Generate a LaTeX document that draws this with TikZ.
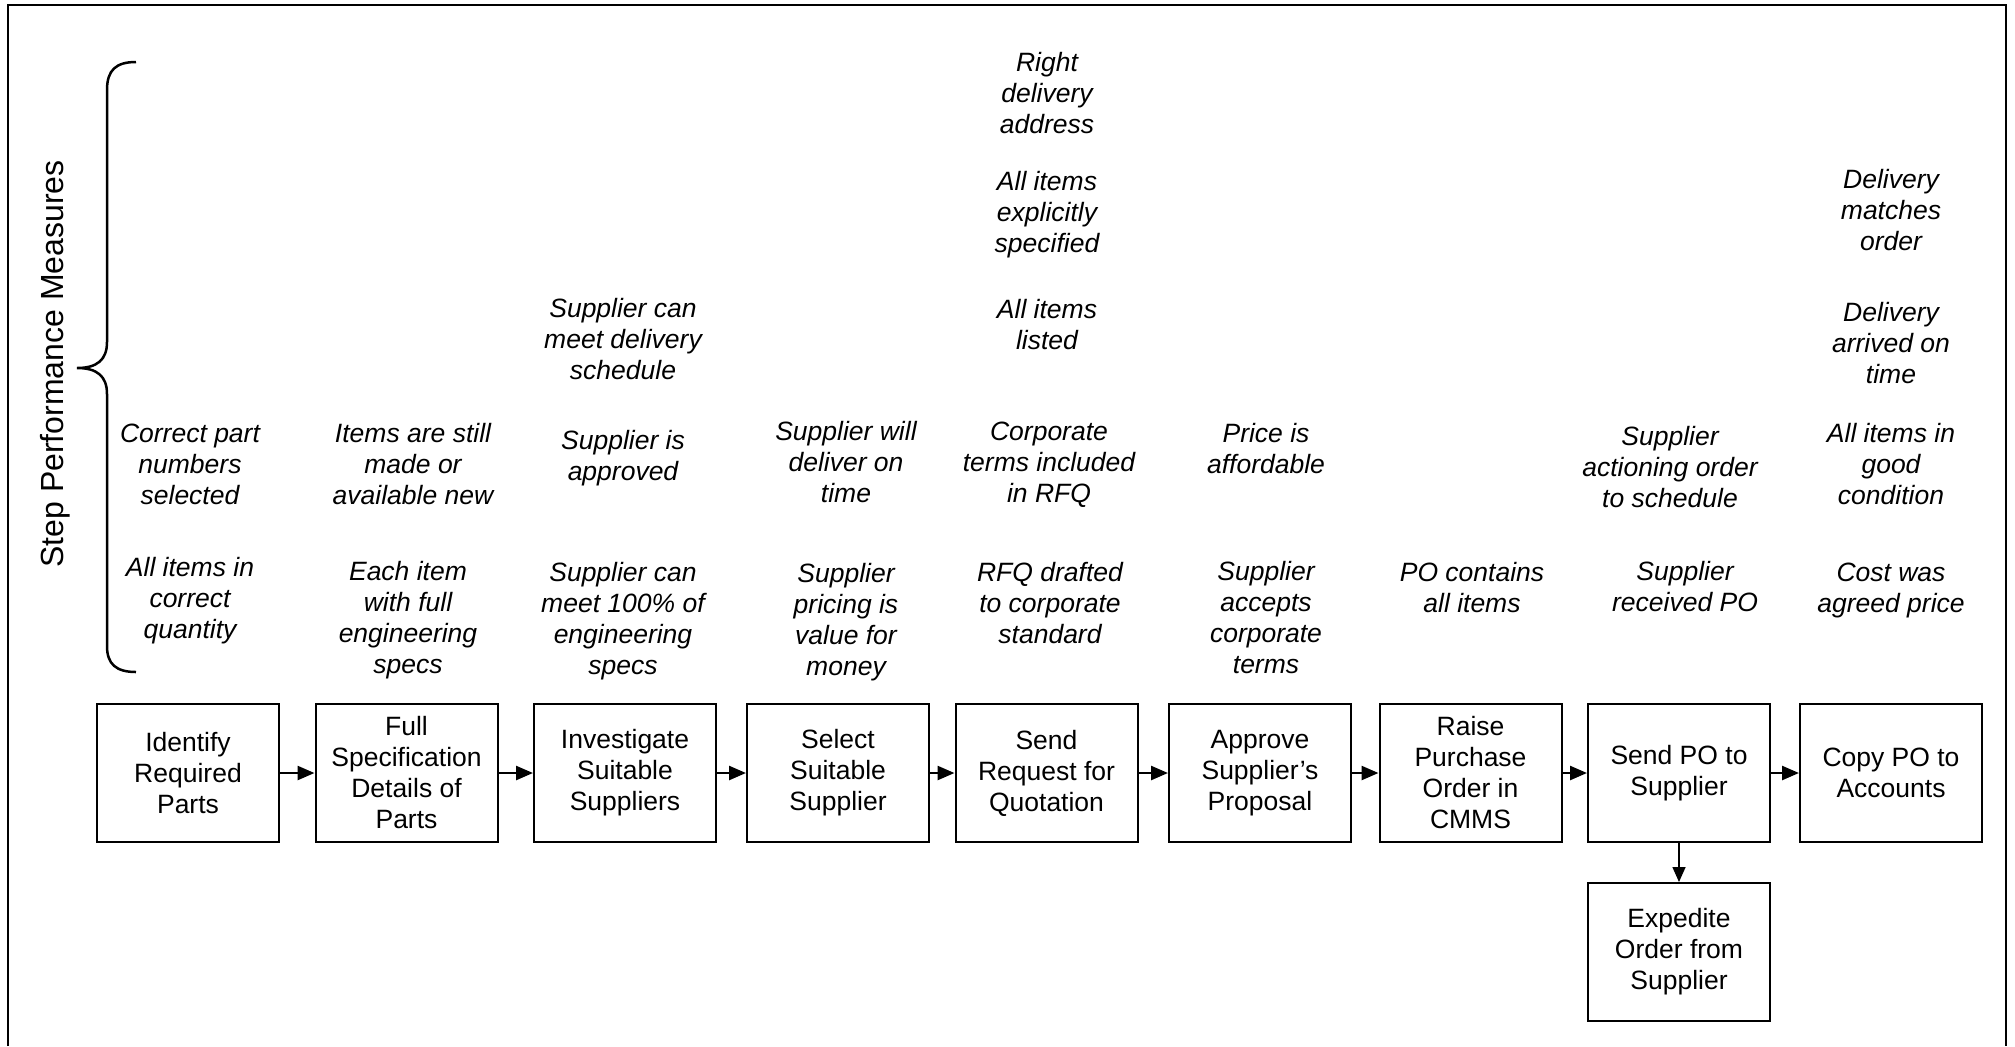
\documentclass[tikz,border=0pt]{standalone}
\usepackage{fontspec}
\setmainfont{Liberation Sans}
\usetikzlibrary{arrows.meta}
\begin{document}
\begin{tikzpicture}[x=0.5pt, y=-0.5pt,
  stepbox/.style={draw, line width=1pt, minimum width=91pt, minimum height=69pt,
    inner sep=0pt, align=center, font=\fontsize{13.25}{15.5}\selectfont},
  measure/.style={anchor=base, align=center, inner sep=0pt,
    font=\fontsize{13.25}{15.5}\selectfont\itshape},
  flow/.style={line width=1.25pt, -{Triangle[length=8.5pt, width=7pt]}},
  flowdown/.style={line width=0.75pt, -{Triangle[length=7.5pt, width=6.5pt]}}]
%
\useasboundingbox (0,0) rectangle (2015,1046);
\draw[line width=1pt] (8,1046) -- (8,5) -- (2006,5) -- (2006,1046);
%
\node[rotate=90, font=\fontsize{16}{19}\selectfont] (title) at (55,364) {Step Performance Measures};
\draw[line width=1.25pt]
(136,62) .. controls (116,62) and (107,70) .. (107,90) -- (107,342)
.. controls (107,360) and (97,368) .. (77,368)
.. controls (97,368) and (107,376) .. (107,394) -- (107,646)
.. controls (107,664) and (116,672) .. (136,672);
%
\node[stepbox] (identify) at (188,773) {Identify\\Required\\Parts};
\node[stepbox] (fullspec) at (406.5,773) {Full\\Specification\\Details of\\Parts};
\node[stepbox] (investigate) at (625,773) {Investigate\\Suitable\\Suppliers};
\node[stepbox] (select) at (838,773) {Select\\Suitable\\Supplier};
\node[stepbox] (request) at (1046.5,773) {Send\\Request for\\Quotation};
\node[stepbox] (approve) at (1260,773) {Approve\\Supplier's\\Proposal};
\node[stepbox] (raise) at (1470.5,773) {Raise\\Purchase\\Order in\\CMMS};
\node[stepbox] (sendpo) at (1679,773) {Send PO to\\Supplier};
\node[stepbox] (copypo) at (1891,773) {Copy PO to\\Accounts};
\node[stepbox] (expedite) at (1679,952) {Expedite\\Order from\\Supplier};
%
\foreach \a/\b in {identify/fullspec, fullspec/investigate, investigate/select,
  select/request, request/approve, approve/raise, raise/sendpo, sendpo/copypo}
  \draw[flow] (\a) -- (\b);
\draw[flowdown] (sendpo) -- (expedite);
%
\node[measure] (partno) at (190,504) {Correct part\\numbers\\selected};
\node[measure] (qty) at (190,638) {All items in\\correct\\quantity};
%
\node[measure] (stillmade) at (413,504) {Items are still\\made or\\available new};
\node[measure] (engspecs) at (408,673) {Each item\\with full\\engineering\\specs};
%
\node[measure] (schedule) at (623,379) {Supplier can\\meet delivery\\schedule};
\node[measure] (approved) at (623,480) {Supplier is\\approved};
\node[measure] (meetspecs) at (623,674) {Supplier can\\meet 100\% of\\engineering\\specs};
%
\node[measure] (ontime) at (846,502) {Supplier will\\deliver on\\time};
\node[measure] (value) at (846,675) {Supplier\\pricing is\\value for\\money};
%
\node[measure] (address) at (1047,133) {Right\\delivery\\address};
\node[measure] (explicit) at (1047,252) {All items\\explicitly\\specified};
\node[measure] (listed) at (1047,349) {All items\\listed};
\node[measure] (terms) at (1049,502) {Corporate\\terms included\\in RFQ};
\node[measure] (drafted) at (1050,643) {RFQ drafted\\to corporate\\standard};
%
\node[measure] (price) at (1266,473) {Price is\\affordable};
\node[measure] (accepts) at (1266,673) {Supplier\\accepts\\corporate\\terms};
%
\node[measure] (contains) at (1472,612) {PO contains\\all items};
%
\node[measure] (actioning) at (1670,507) {Supplier\\actioning order\\to schedule};
\node[measure] (received) at (1685,611) {Supplier\\received PO};
%
\node[measure] (matches) at (1891,250) {Delivery\\matches\\order};
\node[measure] (arrived) at (1891,383) {Delivery\\arrived on\\time};
\node[measure] (condition) at (1891,504) {All items in\\good\\condition};
\node[measure] (cost) at (1891,612) {Cost was\\agreed price};
%
\end{tikzpicture}
\end{document}
